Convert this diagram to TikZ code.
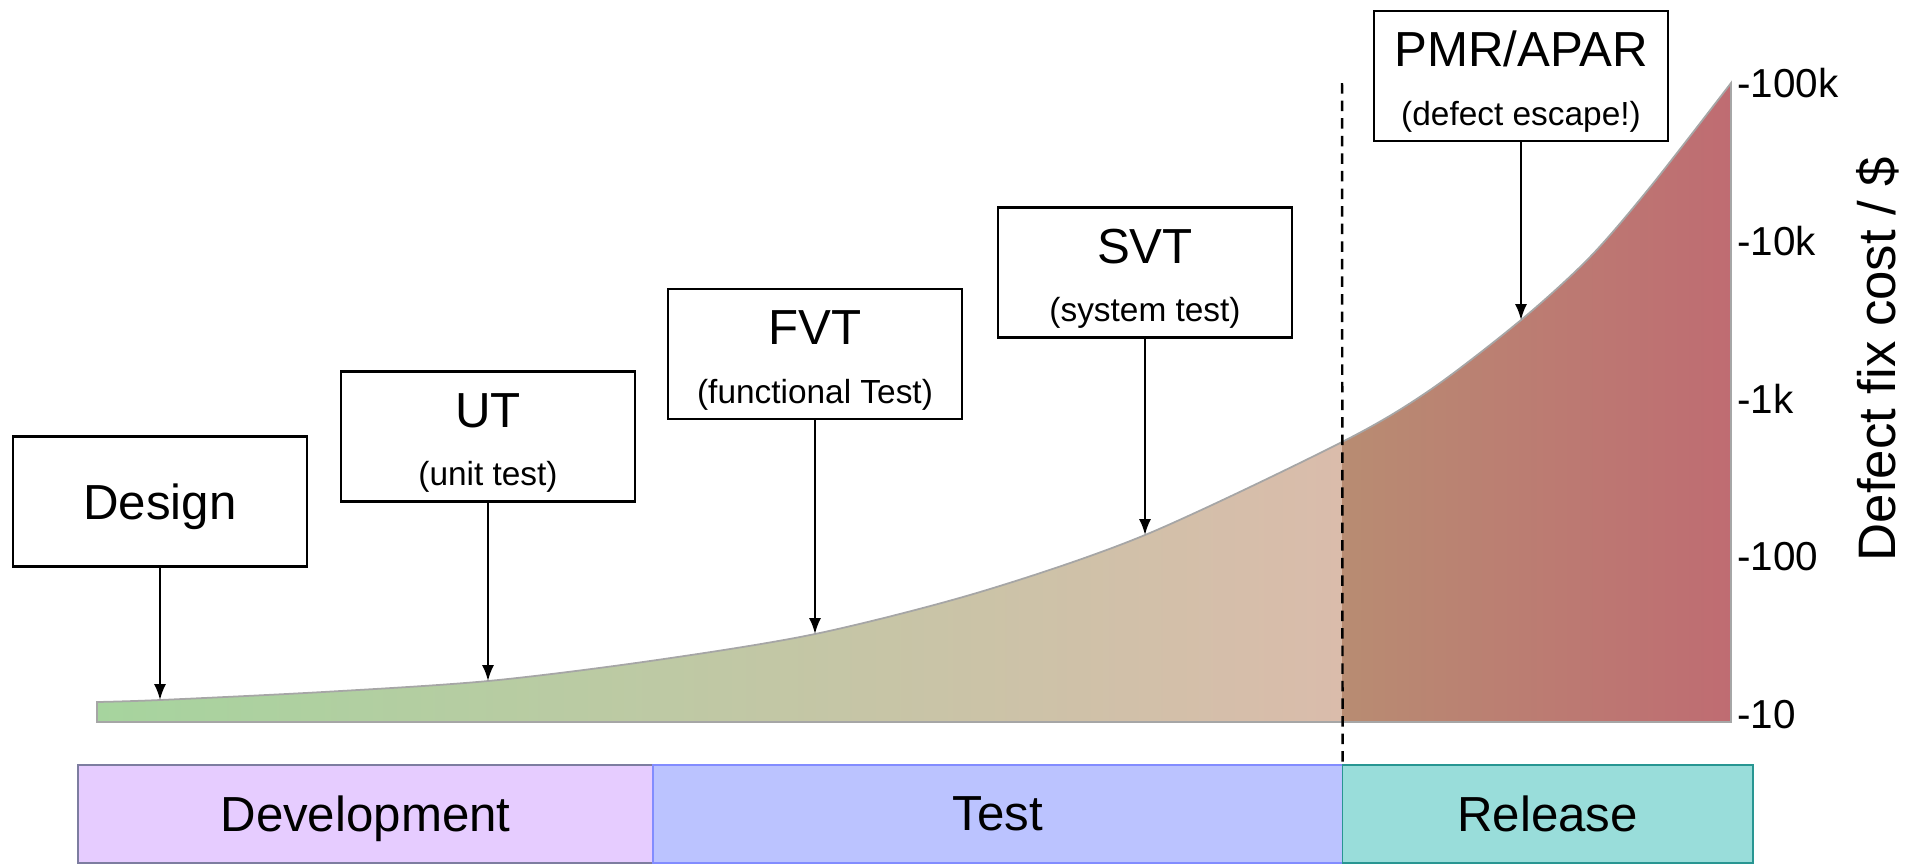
\documentclass[tikz,border=0pt]{standalone}
\usepackage{fontspec}
\setmainfont{Liberation Sans}
\usetikzlibrary{positioning, arrows.meta}

\definecolor{costgreen}{RGB}{166,212,158}
\definecolor{costolive}{RGB}{199,203,166}
\definecolor{costpink}{RGB}{218,188,171}
\definecolor{costbrown}{RGB}{184,140,114}
\definecolor{costrose}{RGB}{191,108,114}
\definecolor{devfill}{RGB}{230,204,255}
\definecolor{devline}{RGB}{125,125,160}
\definecolor{testfill}{RGB}{187,195,255}
\definecolor{testline}{RGB}{130,140,255}
\definecolor{relfill}{RGB}{153,221,218}
\definecolor{relline}{RGB}{40,150,146}

\newcommand{\costcurve}{(97,722) -- plot[smooth] coordinates {(97,702) (160,700) (323,692) (488,681) (650,661) (815,634) (980,592) (1145,535) (1342,442) (1430,390) (1521,320) (1590,257) (1651,186) (1731,83)} -- (1731,722) -- cycle}
\newcommand{\stagetext}[2]{\rule{0pt}{13.4pt}#1\\{\fontsize{9.5}{16.7}\selectfont #2}}

\begin{document}
\begin{tikzpicture}[x=0.01cm, y=-0.01cm,
                stage/.style={draw, line width=0.6pt, fill=white, minimum width=2.93cm, minimum height=1.3cm,
                              inner sep=0pt, align=center, font=\fontsize{14}{16.7}\selectfont},
                phase/.style={draw, minimum height=0.98cm, inner sep=0pt, outer sep=0pt, text depth=0pt,
                              font=\fontsize{14}{16}\selectfont},
                costlabel/.style={anchor=west, inner sep=1pt, font=\fontsize{11.5}{13}\selectfont},
                every edge/.style={draw, line width=0.6pt, -{Latex[length=4.5pt, width=3.4pt]}}]

                \useasboundingbox (0,0) rectangle (1918,866);

                % cost area, darker once released
                \begin{scope}
                    \clip \costcurve;
                    \shade[left color=costgreen, middle color=costolive, right color=costpink] (97,0) rectangle (1342,722);
                    \shade[left color=costbrown, right color=costrose] (1342,0) rectangle (1731,722);
                \end{scope}
                \draw[gray!70, line width=0.5pt] \costcurve;

                % phases
                \node (dev) [phase, fill=devfill, draw=devline, minimum width=5.75cm] at (365.5,814) {Development};
                \node (test) [phase, fill=testfill, draw=testline, minimum width=6.89cm, right=0pt of dev] {Test};
                \node (rel) [phase, fill=relfill, draw=relline, minimum width=4.1cm, right=0pt of test] {Release};

                \coordinate (cut) at (1342,83);
                \draw[line width=0.7pt, dash pattern=on 3pt off 2pt] (cut) -- (rel.north west);

                % stages
                \node (design) [stage, text depth=0pt] at (160,501.5) {Design};
                \node (ut) [stage] at (488,436.5) {\stagetext{UT}{(unit test)}};
                \node (fvt) [stage] at (815,354) {\stagetext{FVT}{(functional Test)}};
                \node (svt) [stage] at (1145,272.5) {\stagetext{SVT}{(system test)}};
                \node (pmr) [stage] at (1521,76) {\stagetext{PMR/APAR}{(defect escape!)}};

                \coordinate (designhit) at (160,700);
                \coordinate (uthit) at (488,681);
                \coordinate (fvthit) at (815,634);
                \coordinate (svthit) at (1145,535);
                \coordinate (pmrhit) at (1521,320);

                \path
                    (design) edge (designhit)
                    (ut) edge (uthit)
                    (fvt) edge (fvthit)
                    (svt) edge (svthit)
                    (pmr) edge (pmrhit); % escape costs most

                % cost scale
                \node (c100k) [costlabel] at (1733,83) {-100k};
                \node (c10k) [costlabel] at (1733,241) {-10k};
                \node (c1k) [costlabel] at (1733,399) {-1k};
                \node (c100) [costlabel] at (1733,557) {-100};
                \node (c10) [costlabel] at (1733,715) {-10};
                \node (costaxis) [rotate=90, font=\fontsize{15}{18}\selectfont] at (1878,359) {Defect fix cost / \$};

\end{tikzpicture}
\end{document}
